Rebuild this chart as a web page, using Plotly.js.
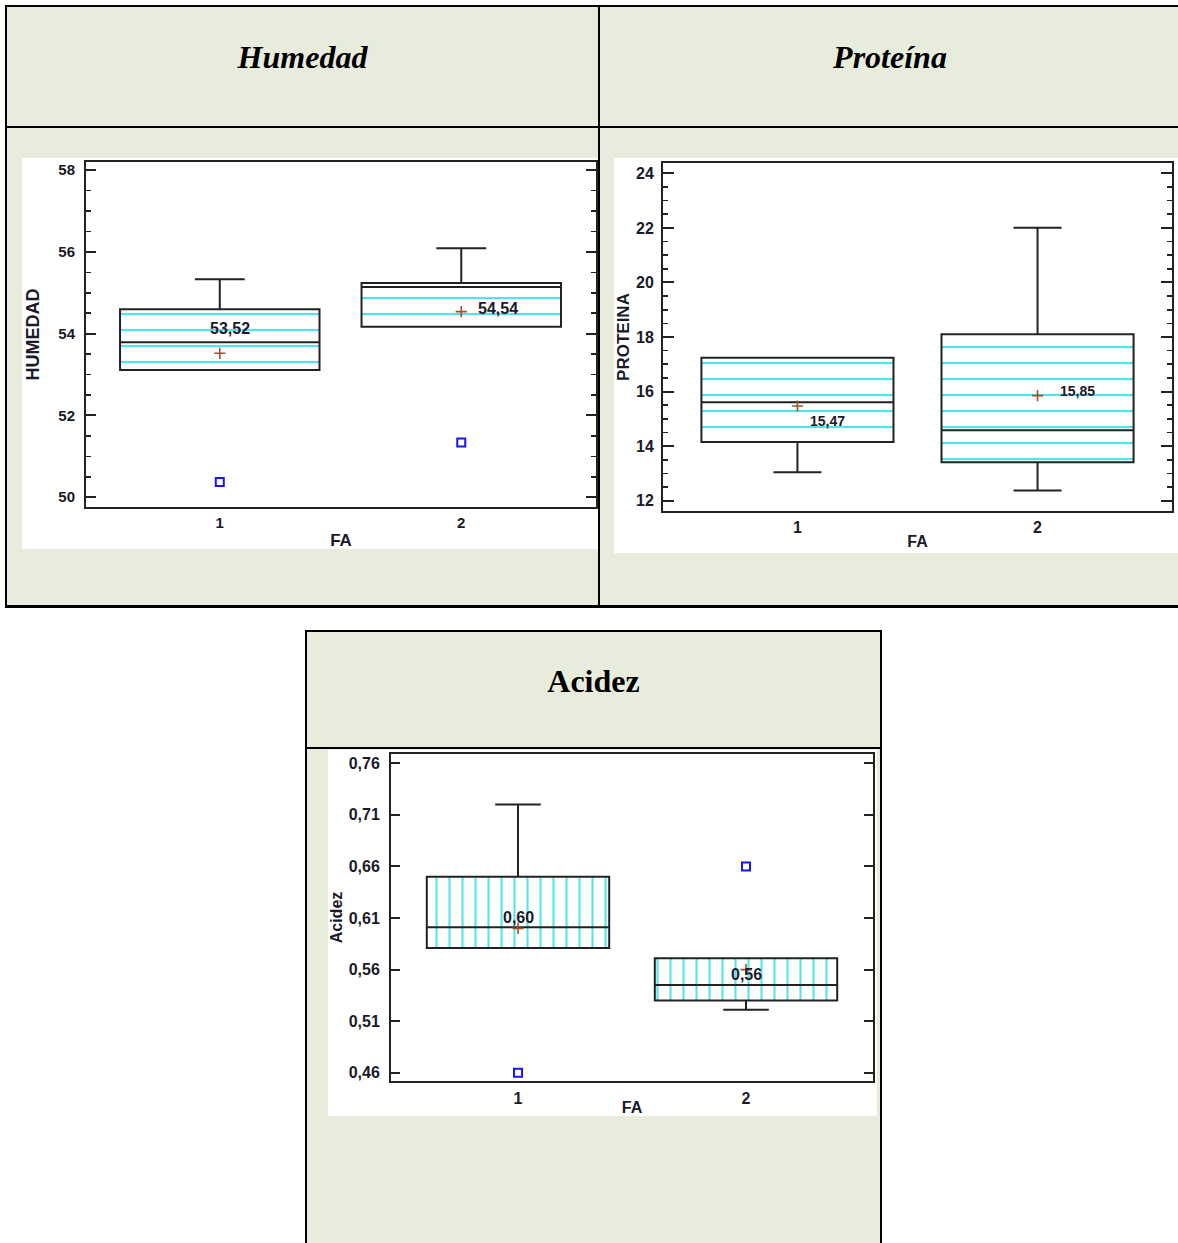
<!DOCTYPE html>
<html>
<head>
<meta charset="utf-8">
<script src="https://cdn.plot.ly/plotly-3.0.1.min.js"></script>
<style>
  html, body { margin: 0; padding: 0; background: #ffffff; }
  body { width: 1178px; height: 1243px; position: relative; overflow: hidden; }
  .cell { position: absolute; background: #e8ecdc; box-sizing: border-box; }
  .rule { position: absolute; background: #000000; }
  .head {
    position: absolute; text-align: center; color: #000000;
    font-family: "Liberation Serif", "Times New Roman", serif;
    font-weight: bold; font-size: 32px; line-height: 32px;
  }
  .frame { position: absolute; overflow: hidden; background: #ffffff; }
</style>
</head>
<body>
<!-- upper table: Humedad | Proteína -->
<div class="cell" style="left:5px;top:5px;width:1180px;height:603px;border:2px solid #000;border-bottom-width:3px;"></div>
<div class="rule" style="left:5px;top:126px;width:1180px;height:2px;"></div>
<div class="rule" style="left:598px;top:5px;width:2px;height:602px;"></div>
<div class="head" style="left:7px;top:41px;width:591px;font-style:italic;">Humedad</div>
<div class="head" style="left:600px;top:41px;width:580px;font-style:italic;">Proteína</div>

<!-- lower table: Acidez -->
<div class="cell" style="left:305px;top:630px;width:577px;height:650px;border:2px solid #000;"></div>
<div class="rule" style="left:305px;top:747px;width:577px;height:2px;"></div>
<div class="head" style="left:307px;top:665px;width:573px;">Acidez</div>

<div class="frame" style="left:22px;top:158px;width:576px;height:391px;"><div id="hum"></div></div>
<div class="frame" style="left:614px;top:158px;width:564px;height:395px;"><div id="prot"></div></div>
<div class="frame" style="left:328px;top:750px;width:549px;height:366px;"><div id="acid"></div></div>

<script>
// ---- data ----
const groups = [1, 2];
const groupLabels = ['1', '2'];

// Humedad by FA group
const humQ1 = [53.11, 54.17];
const humMedian = [53.79, 55.14];
const humQ3 = [54.60, 55.24];
const humLower = [53.11, 54.17];
const humUpper = [55.33, 56.09];
const humMean = [53.52, 54.54];
const humOutlierX = [1, 2];
const humOutlierY = [50.37, 51.34];
const humTicks = [50, 52, 54, 56, 58];

// Proteína by FA group
const protQ1 = [14.15, 13.41];
const protMedian = [15.61, 14.58];
const protQ3 = [17.24, 18.10];
const protLower = [13.04, 12.37];
const protUpper = [17.24, 22.01];
const protMean = [15.47, 15.85];
const protOutlierX = [];
const protOutlierY = [];
const protTicks = [12, 14, 16, 18, 20, 22, 24];

// Acidez by FA group
const acidQ1 = [0.581, 0.530];
const acidMedian = [0.601, 0.545];
const acidQ3 = [0.650, 0.571];
const acidLower = [0.581, 0.521];
const acidUpper = [0.720, 0.571];
const acidMean = [0.60, 0.56];
const acidOutlierX = [1, 2];
const acidOutlierY = [0.46, 0.66];
const acidTicks = [0.46, 0.51, 0.56, 0.61, 0.66, 0.71, 0.76];

// ---- drawing ----
const FONT = 'Liberation Sans, Arial, sans-serif';
const INK = '#1a1a28';
const FRAME = '#222222';
const HATCH = '#52e4ec';

const fmt = (v, d) => v.toFixed(d).replace('.', ',');

function drawBoxChart(id, d, st) {
  const traces = [
    // hatched box body
    {
      type: 'bar', x: groups, base: d.q1,
      y: d.q3.map((v, i) => v - d.q1[i]),
      width: st.boxWidth, hoverinfo: 'skip',
      marker: {
        color: '#ffffff', line: { width: 0 },
        pattern: { shape: st.hatch, fgcolor: HATCH, size: st.hatchSize, solidity: st.hatchSolidity }
      }
    },
    // box outline, median and whiskers
    {
      type: 'box', x: groups,
      q1: d.q1, median: d.median, q3: d.q3,
      lowerfence: d.lower, upperfence: d.upper,
      width: st.boxWidth, whiskerwidth: 0.25, boxpoints: false,
      fillcolor: 'rgba(0,0,0,0)', line: { color: FRAME, width: 2 },
      hoverinfo: 'skip'
    },
    // group means
    {
      type: 'scatter', mode: 'markers', x: groups, y: d.mean,
      marker: { symbol: 'cross-thin', size: 8, line: { color: '#a0522d', width: 1.6 } },
      hoverinfo: 'skip'
    },
    // outside points
    {
      type: 'scatter', mode: 'markers', x: d.outX, y: d.outY,
      marker: { symbol: 'square-open', size: 8, color: '#1414ff', line: { width: 2 } },
      hoverinfo: 'skip'
    }
  ];

  const annotations = d.mean.map((m, i) => ({
    x: groups[i], y: m, text: fmt(m, 2), showarrow: false,
    xshift: st.labelShift[i][0], yshift: st.labelShift[i][1],
    font: { family: FONT, size: st.labelSize, color: INK, weight: 'bold' }
  }));

  const yaxis = {
    range: st.yRange, tickmode: 'array', tickvals: d.ticks,
    ticktext: d.ticks.map(v => fmt(v, st.tickDec)),
    ticks: 'inside', ticklen: st.tickLen, tickwidth: 2, tickcolor: FRAME,
    ticklabelstandoff: st.tickStandoff,
    showline: true, linewidth: 2, linecolor: FRAME, mirror: 'ticks',
    showgrid: false, zeroline: false,
    tickfont: { family: FONT, size: st.tickSize, color: INK, weight: 'bold' },
    title: { text: d.yTitle, standoff: st.yTitleStandoff,
             font: { family: FONT, size: st.yTitleSize, color: INK, weight: 'bold' } }
  };
  if (st.minorStep) {
    yaxis.minor = { tickmode: 'linear', tick0: 0, dtick: st.minorStep, ticks: 'inside',
                    ticklen: 5, tickwidth: 1.6, tickcolor: FRAME, showgrid: false };
  }

  const layout = {
    width: st.width, height: st.height, margin: st.margin,
    paper_bgcolor: '#ffffff', plot_bgcolor: '#ffffff',
    showlegend: false, separators: ',.', barmode: 'overlay',
    font: { family: FONT, color: INK },
    xaxis: {
      type: 'linear', range: st.xRange, tickmode: 'array', tickvals: groups, ticktext: groupLabels,
      ticks: '', ticklabelstandoff: st.xTickStandoff,
      showline: true, linewidth: 2, linecolor: FRAME, mirror: true,
      showgrid: false, zeroline: false,
      tickfont: { family: FONT, size: st.tickSize, color: INK, weight: 'bold' },
      title: { text: 'FA', standoff: st.xTitleStandoff,
               font: { family: FONT, size: st.xTitleSize, color: INK, weight: 'bold' } }
    },
    yaxis: yaxis,
    annotations: annotations
  };

  Plotly.newPlot(id, traces, layout, { staticPlot: true, displayModeBar: false });
}

// charts may be a little taller than their visible frame; the frame clips the excess
drawBoxChart('hum',
  { q1: humQ1, median: humMedian, q3: humQ3, lower: humLower, upper: humUpper,
    mean: humMean, outX: humOutlierX, outY: humOutlierY, ticks: humTicks, yTitle: 'HUMEDAD' },
  { width: 576, height: 421, margin: { l: 64, r: 2, t: 4, b: 72 },
    xRange: [0.446, 2.558], yRange: [49.76, 58.2], boxWidth: 0.826,
    hatch: '-', hatchSize: 16, hatchSolidity: 0.14, minorStep: 0.5,
    tickLen: 10, tickDec: 0, tickSize: 15, tickStandoff: 6, xTickStandoff: 1,
    yTitleSize: 18, yTitleStandoff: 14, xTitleSize: 17, xTitleStandoff: 4,
    labelSize: 16, labelShift: [[10, 25], [37, 3]] });

drawBoxChart('prot',
  { q1: protQ1, median: protMedian, q3: protQ3, lower: protLower, upper: protUpper,
    mean: protMean, outX: protOutlierX, outY: protOutlierY, ticks: protTicks, yTitle: 'PROTEINA' },
  { width: 564, height: 425, margin: { l: 49, r: 6, t: 5, b: 72 },
    xRange: [0.44, 2.56], yRange: [11.62, 24.38], boxWidth: 0.80,
    hatch: '-', hatchSize: 16, hatchSolidity: 0.14, minorStep: 0.5,
    tickLen: 11, tickDec: 0, tickSize: 16, tickStandoff: 4, xTickStandoff: 1,
    yTitleSize: 17, yTitleStandoff: 2, xTitleSize: 16, xTitleStandoff: 1,
    labelSize: 14, labelShift: [[30, -15], [40, 5]] });

drawBoxChart('acid',
  { q1: acidQ1, median: acidMedian, q3: acidQ3, lower: acidLower, upper: acidUpper,
    mean: acidMean, outX: acidOutlierX, outY: acidOutlierY, ticks: acidTicks, yTitle: 'Acidez' },
  { width: 549, height: 366, margin: { l: 63, r: 4, t: 4, b: 35 },
    xRange: [0.443, 2.557], yRange: [0.452, 0.769], boxWidth: 0.80,
    hatch: '|', hatchSize: 13, hatchSolidity: 0.16, minorStep: 0,
    tickLen: 9, tickDec: 2, tickSize: 16, tickStandoff: 6, xTickStandoff: 2,
    yTitleSize: 16, yTitleStandoff: 2, xTitleSize: 16, xTitleStandoff: 10,
    labelSize: 16, labelShift: [[0, 11], [0, -5]] });
</script>
</body>
</html>
